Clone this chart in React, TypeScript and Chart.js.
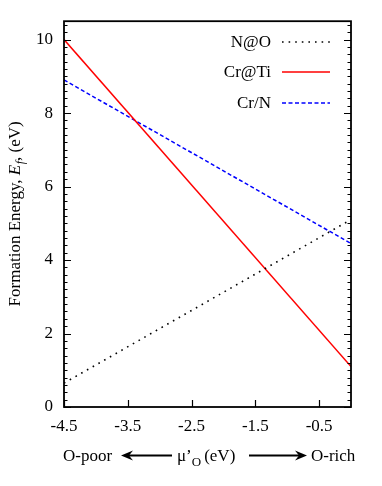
import React, { useEffect, useRef } from "react";
import { Chart, registerables } from "chart.js";

Chart.register(...registerables);

const xEnds = [-4.5, 0];
const nAtO = [0.65, 5.1];
const crAtTi = [10.0, 1.1];
const crN = [8.9, 4.45];
const xTickValues = [-4.5, -3.5, -2.5, -1.5, -0.5];
const yTickValues = [0, 2, 4, 6, 8, 10];
const seriesNames = ["N@O", "Cr@Ti", "Cr/N"];

const FONT = "'Liberation Serif', 'Times New Roman', serif";

const pts = (ys: number[]) => xEnds.map((x, i) => ({ x, y: ys[i] }));

const frame = {
  id: "frame",
  afterDatasetsDraw(chart: any) {
    const { ctx, chartArea: a, scales } = chart;
    const xs = scales.x;
    const ys = scales.y;
    ctx.save();
    ctx.strokeStyle = "#000";
    ctx.lineWidth = 1.8;
    ctx.strokeRect(a.left, a.top, a.right - a.left, a.bottom - a.top);
    ctx.lineWidth = 1.2;
    ctx.beginPath();
    for (let i = 0; i <= 52; i++) {
      const v = i * 0.2;
      const py = Math.round(ys.getPixelForValue(v)) + 0.5;
      const major = i % 10 === 0;
      const len = major ? 7 : 3.5;
      ctx.moveTo(a.left, py);
      ctx.lineTo(a.left + len, py);
      ctx.moveTo(a.right, py);
      ctx.lineTo(a.right - len, py);
    }
    for (const v of xTickValues) {
      const px = Math.round(xs.getPixelForValue(v)) + 0.5;
      ctx.moveTo(px, a.bottom);
      ctx.lineTo(px, a.bottom - 7);
    }
    ctx.stroke();

    // legend
    ctx.font = `17px ${FONT}`;
    ctx.textAlign = "right";
    ctx.textBaseline = "middle";
    ctx.fillStyle = "#000";
    const ly = [42, 72, 103];
    chart.data.datasets.forEach((ds: any, i: number) => {
      ctx.fillText(seriesNames[i], 271, ly[i] + 1);
      ctx.save();
      ctx.strokeStyle = ds.borderColor;
      ctx.lineWidth = ds.borderWidth;
      ctx.setLineDash(ds.borderDash || []);
      ctx.beginPath();
      ctx.moveTo(282, ly[i]);
      ctx.lineTo(330, ly[i]);
      ctx.stroke();
      ctx.restore();
    });

    // y title
    ctx.save();
    ctx.translate(14, (a.top + a.bottom) / 2);
    ctx.rotate(-Math.PI / 2);
    ctx.textAlign = "left";
    ctx.textBaseline = "alphabetic";
    const parts: [string, string, number][] = [
      ["Formation Energy, ", `17px ${FONT}`, 0],
      ["E", `italic 17px ${FONT}`, 0],
      ["f", `italic 12px ${FONT}`, 4],
      [", (eV)", `17px ${FONT}`, 0],
    ];
    let total = 0;
    const widths = parts.map(([t, f]) => {
      ctx.font = f;
      const w = ctx.measureText(t).width;
      total += w;
      return w;
    });
    let cx = -total / 2;
    parts.forEach(([t, f, dy], i) => {
      ctx.font = f;
      ctx.fillText(t, cx, 6 + dy);
      cx += widths[i] + (i === 1 ? 0.5 : 0);
    });
    ctx.restore();

    // x title
    const by = 461;
    ctx.textAlign = "left";
    ctx.textBaseline = "alphabetic";
    ctx.font = `17px ${FONT}`;
    ctx.fillText("O-poor", 63, by);
    const arrow = (x1: number, x2: number, headLeft: boolean) => {
      const y = 455.5;
      ctx.beginPath();
      ctx.lineWidth = 2;
      ctx.moveTo(x1 + (headLeft ? 6 : 0), y);
      ctx.lineTo(x2 - (headLeft ? 0 : 6), y);
      ctx.stroke();
      ctx.beginPath();
      if (headLeft) {
        ctx.moveTo(x1, y);
        ctx.lineTo(x1 + 12, y - 5);
        ctx.lineTo(x1 + 8, y);
        ctx.lineTo(x1 + 12, y + 5);
      } else {
        ctx.moveTo(x2, y);
        ctx.lineTo(x2 - 12, y - 5);
        ctx.lineTo(x2 - 8, y);
        ctx.lineTo(x2 - 12, y + 5);
      }
      ctx.closePath();
      ctx.fill();
    };
    arrow(121, 172, true);
    ctx.font = `17px ${FONT}`;
    ctx.fillText("\u03bc\u2019", 177, by);
    let mx = 177 + ctx.measureText("\u03bc\u2019").width;
    ctx.font = `13px ${FONT}`;
    ctx.fillText("O", mx, by + 5);
    mx += ctx.measureText("O").width + 3;
    ctx.font = `17px ${FONT}`;
    ctx.fillText("(eV)", mx, by);
    arrow(249, 307, false);
    ctx.fillText("O-rich", 311, by);
    ctx.restore();
  },
};

export default function App() {
  const ref = useRef<HTMLCanvasElement>(null);
  useEffect(() => {
    let chart: Chart | null = null;
    let cancelled = false;
    const make = () => {
      if (cancelled || !ref.current) return;
      chart = new Chart(ref.current, {
        type: "scatter",
        data: {
          datasets: [
            {
              label: seriesNames[0],
              data: pts(nAtO),
              showLine: true,
              borderColor: "#000000",
              borderWidth: 1.6,
              borderDash: [1.6, 5],
              pointRadius: 0,
            },
            {
              label: seriesNames[1],
              data: pts(crAtTi),
              showLine: true,
              borderColor: "#ff0000",
              borderWidth: 1.5,
              pointRadius: 0,
            },
            {
              label: seriesNames[2],
              data: pts(crN),
              showLine: true,
              borderColor: "#0000ff",
              borderWidth: 1.5,
              borderDash: [4, 2.5],
              pointRadius: 0,
            },
          ],
        },
        options: {
          responsive: false,
          animation: false,
          layout: { padding: { left: 0, right: 31, top: 21, bottom: 0 } },
          plugins: { legend: { display: false }, tooltip: { enabled: false } },
          scales: {
            x: {
              type: "linear",
              min: -4.5,
              max: 0,
              grid: { display: false, drawTicks: false },
              border: { display: false },
              afterBuildTicks: (s: any) => {
                s.ticks = xTickValues.map((v) => ({ value: v }));
              },
              afterFit: (s: any) => {
                s.height = 79;
              },
              ticks: {
                color: "#000",
                padding: 9,
                maxRotation: 0,
                font: { family: FONT, size: 17 },
                callback: (v: any) => Number(v).toFixed(1),
              },
            },
            y: {
              type: "linear",
              min: 0,
              max: 10.5,
              grid: { display: false, drawTicks: false },
              border: { display: false },
              afterBuildTicks: (s: any) => {
                s.ticks = yTickValues.map((v) => ({ value: v }));
              },
              afterFit: (s: any) => {
                s.width = 64;
              },
              ticks: {
                color: "#000",
                padding: 11,
                font: { family: FONT, size: 17 },
                callback: (v: any) => String(v),
              },
            },
          },
        },
        plugins: [frame],
      });
    };
    const fonts = (document as any).fonts;
    if (fonts && fonts.load) {
      Promise.all([
        fonts.load("17px 'Liberation Serif'"),
        fonts.load("italic 17px 'Liberation Serif'"),
      ])
        .catch(() => null)
        .then(make);
    } else {
      make();
    }
    return () => {
      cancelled = true;
      if (chart) chart.destroy();
    };
  }, []);
  return (
    <div style={{ position: "absolute", left: 0, top: 0, width: 382, height: 486, background: "#fff" }}>
      <canvas ref={ref} width={382} height={486} style={{ display: "block" }} />
    </div>
  );
}
